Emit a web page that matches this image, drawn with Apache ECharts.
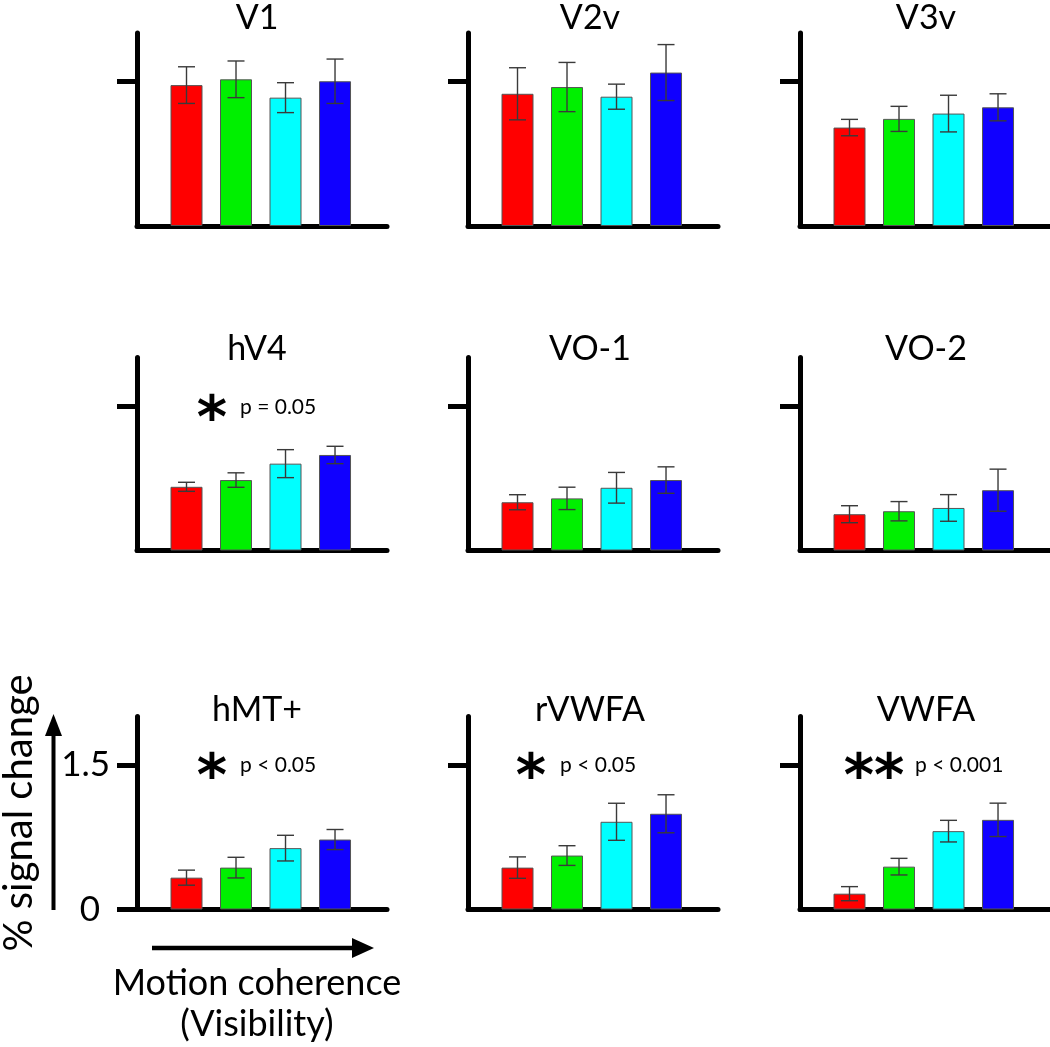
<!DOCTYPE html>
<html>
<head>
<meta charset="utf-8">
<script src="https://cdn.jsdelivr.net/npm/echarts@6/dist/echarts.min.js"></script>
<style>
html,body{margin:0;padding:0;background:#fff;}
#chart{width:1050px;height:1047px;}
</style>
</head>
<body>
<div id="chart"></div>
<script>
// ---------------- DATA ----------------
const coherenceLevels = ['Level 1', 'Level 2', 'Level 3', 'Level 4'];
const regionNames = ['V1', 'V2v', 'V3v', 'hV4', 'VO-1', 'VO-2', 'hMT+', 'rVWFA', 'VWFA'];

const V1_mean    = [1.46, 1.52, 1.33, 1.50];
const V1_err     = [0.19, 0.19, 0.155, 0.23];
const V2v_mean   = [1.37, 1.44, 1.34, 1.59];
const V2v_err    = [0.27, 0.255, 0.13, 0.29];
const V3v_mean   = [1.02, 1.11, 1.165, 1.23];
const V3v_err    = [0.085, 0.13, 0.19, 0.14];
const hV4_mean   = [0.66, 0.73, 0.90, 0.99];
const hV4_err    = [0.047, 0.075, 0.145, 0.09];
const VO1_mean   = [0.50, 0.54, 0.65, 0.73];
const VO1_err    = [0.078, 0.116, 0.159, 0.137];
const VO2_mean   = [0.376, 0.407, 0.441, 0.625];
const VO2_err    = [0.088, 0.10, 0.138, 0.218];
const hMT_mean   = [0.33, 0.434, 0.636, 0.725];
const hMT_err    = [0.078, 0.107, 0.133, 0.104];
const rVWFA_mean = [0.434, 0.559, 0.909, 0.992];
const rVWFA_err  = [0.111, 0.102, 0.192, 0.197];
const VWFA_mean  = [0.164, 0.444, 0.812, 0.929];
const VWFA_err   = [0.073, 0.086, 0.112, 0.173];

const sigStars = ['', '', '', '*', '', '', '*', '*', '**'];
const sigText  = ['', '', '', 'p = 0.05', '', '', 'p < 0.05', 'p < 0.05', 'p < 0.001'];

const yTickValues = [0, 1.5];
const yTickLabels = ['0', '1.5'];

const yAxisName = '% signal change';
const xAxisName = ['Motion coherence', '(Visibility)'];

// ---------------- STYLE / LAYOUT ----------------
const barColors = ['#ff0000', '#00f000', '#00ffff', '#1000ff'];
const allMeans = [V1_mean, V2v_mean, V3v_mean, hV4_mean, VO1_mean, VO2_mean, hMT_mean, rVWFA_mean, VWFA_mean];
const allErrs  = [V1_err, V2v_err, V3v_err, hV4_err, VO1_err, VO2_err, hMT_err, rVWFA_err, VWFA_err];

const colLeft = [137, 468, 800];
const rowZero = [226, 550.5, 909.5];
const gridH = 193;
const gridW = 250;
const titleX = [257, 590, 926];
const titleY = [18.5, 349, 710.5];
// annotation layout per panel: star center offset from axis, text left offset from axis, center y offset from zero
const annLayout = {
  3: {star: 75, text: 103, dy: -144},
  6: {star: 75, text: 103, dy: -145},
  7: {star: 63, text: 92, dy: -145},
  8: {star: 74, text: 115, dy: -145}
};

const FONT = 'Lato, "Open Sans", sans-serif';

const grids = [], xAxes = [], yAxes = [], series = [], graphics = [];

regionNames.forEach((name, i) => {
  const r = Math.floor(i / 3), c = i % 3;
  const isBL = (r === 2 && c === 0);
  grids.push({left: colLeft[c], top: rowZero[r] - gridH, width: gridW, height: gridH, containLabel: false});
  xAxes.push({
    gridIndex: i, type: 'value', min: 0, max: 5.05,
    axisLine: {show: true, onZero: false, lineStyle: {color: '#000', width: 5}},
    axisTick: {show: false}, axisLabel: {show: false}, splitLine: {show: false}
  });
  yAxes.push({
    gridIndex: i, type: 'value', min: 0, max: 2,
    axisLine: {show: true, onZero: false, lineStyle: {color: '#000', width: 5}},
    axisTick: {show: true, length: 20, customValues: isBL ? yTickValues : [yTickValues[1]],
               lineStyle: {color: '#000', width: 5}},
    axisLabel: {
      show: isBL, customValues: yTickValues, margin: 27,
      formatter: (v) => v === 0 ? '{z|' + yTickLabels[0] + '}' : '{o|' + yTickLabels[1] + '}',
      rich: {
        z: {fontFamily: FONT, fontSize: 35, color: '#000', padding: [0, 10, 0, 0]},
        o: {fontFamily: FONT, fontSize: 35, color: '#000'}
      }
    },
    splitLine: {show: false}
  });
  const mean = allMeans[i], err = allErrs[i];
  series.push({
    type: 'bar', name: name, xAxisIndex: i, yAxisIndex: i,
    data: mean.map((v, j) => ({value: [j + 1, v], name: coherenceLevels[j]})),
    barWidth: 32, colorBy: 'data',
    itemStyle: {borderColor: '#555', borderWidth: 1},
    silent: true, z: 2
  });
  series.push({
    type: 'custom', name: name + ' err', xAxisIndex: i, yAxisIndex: i,
    data: mean.map((v, j) => [j + 1, v - err[j], v + err[j]]),
    encode: {x: 0, y: [1, 2]},
    z: 5, silent: true,
    renderItem: (params, api) => {
      const x = api.value(0);
      const lo = api.coord([x, api.value(1)]);
      const hi = api.coord([x, api.value(2)]);
      const hw = 8.5;
      const st = {stroke: '#3a3a3a', lineWidth: 1.4};
      return {type: 'group', children: [
        {type: 'line', shape: {x1: lo[0], y1: lo[1], x2: hi[0], y2: hi[1]}, style: st},
        {type: 'line', shape: {x1: lo[0] - hw, y1: lo[1], x2: lo[0] + hw, y2: lo[1]}, style: st},
        {type: 'line', shape: {x1: hi[0] - hw, y1: hi[1], x2: hi[0] + hw, y2: hi[1]}, style: st}
      ]};
    }
  });
  // title
  graphics.push({type: 'text', x: titleX[c], y: titleY[r], silent: true,
    style: {text: name, fontFamily: FONT, fontSize: 34, fill: '#000', align: 'center', verticalAlign: 'middle'}});
  // significance annotation
  if (sigStars[i]) {
    const L = annLayout[i];
    const cy = rowZero[r] + L.dy;
    graphics.push({type: 'text', x: colLeft[c] + L.star, y: cy + 15, silent: true,
      style: {text: sigStars[i], fontFamily: '"DejaVu Sans", sans-serif', fontWeight: 'bold', fontSize: 58, fill: '#000',
              align: 'center', verticalAlign: 'middle'}});
    graphics.push({type: 'text', x: colLeft[c] + L.text, y: cy + 1, silent: true,
      style: {text: sigText[i], fontFamily: FONT, fontSize: 21, fill: '#000',
              align: 'left', verticalAlign: 'middle'}});
  }
});

// axis description arrows and labels
graphics.push({type: 'line', silent: true, shape: {x1: 53.5, y1: 910, x2: 53.5, y2: 730}, style: {stroke: '#000', lineWidth: 4}});
graphics.push({type: 'polygon', silent: true, shape: {points: [[53.5, 714], [45, 736], [62, 736]]}, style: {fill: '#000'}});
graphics.push({type: 'line', silent: true, shape: {x1: 152, y1: 948, x2: 358, y2: 948}, style: {stroke: '#000', lineWidth: 4.5}});
graphics.push({type: 'polygon', silent: true, shape: {points: [[374, 948], [352, 938], [352, 958]]}, style: {fill: '#000'}});
graphics.push({type: 'text', x: 19, y: 813, rotation: Math.PI / 2, silent: true,
  style: {text: yAxisName, fontFamily: FONT, fontSize: 40, fill: '#000', align: 'center', verticalAlign: 'middle'}});
graphics.push({type: 'text', x: 257, y: 983, silent: true,
  style: {text: xAxisName[0], fontFamily: FONT, fontSize: 36, fill: '#000', align: 'center', verticalAlign: 'middle'}});
graphics.push({type: 'text', x: 257, y: 1024, silent: true,
  style: {text: xAxisName[1], fontFamily: FONT, fontSize: 36, fill: '#000', align: 'center', verticalAlign: 'middle'}});

const chart = echarts.init(document.getElementById('chart'), null, {renderer: 'canvas'});
chart.setOption({
  animation: false,
  backgroundColor: '#fff',
  color: barColors,
  grid: grids,
  xAxis: xAxes,
  yAxis: yAxes,
  series: series,
  graphic: {elements: graphics}
});
</script>
</body>
</html>
